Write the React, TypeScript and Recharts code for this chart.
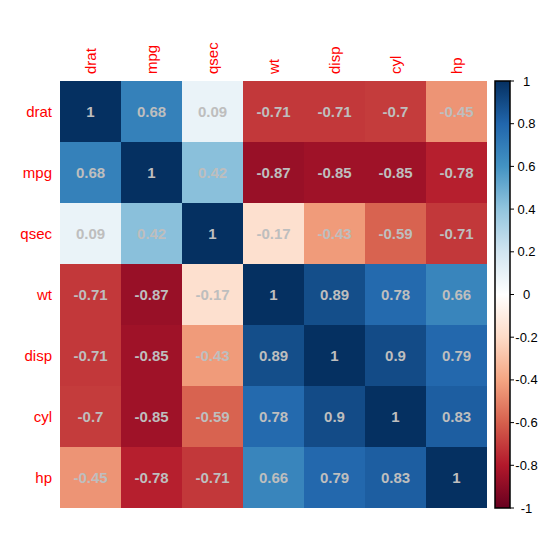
import React from 'react';
import { BarChart, Bar, XAxis, YAxis } from 'recharts';

const variables = ['drat', 'mpg', 'qsec', 'wt', 'disp', 'cyl', 'hp'];

// correlation rows, same order as variables
const dratRow = [1, 0.68, 0.09, -0.71, -0.71, -0.7, -0.45];
const mpgRow = [0.68, 1, 0.42, -0.87, -0.85, -0.85, -0.78];
const qsecRow = [0.09, 0.42, 1, -0.17, -0.43, -0.59, -0.71];
const wtRow = [-0.71, -0.87, -0.17, 1, 0.89, 0.78, 0.66];
const dispRow = [-0.71, -0.85, -0.43, 0.89, 1, 0.9, 0.79];
const cylRow = [-0.7, -0.85, -0.59, 0.78, 0.9, 1, 0.83];
const hpRow = [-0.45, -0.78, -0.71, 0.66, 0.79, 0.83, 1];
const matrix = [dratRow, mpgRow, qsecRow, wtRow, dispRow, cylRow, hpRow];

const legendTicks = [-1, -0.8, -0.6, -0.4, -0.2, 0, 0.2, 0.4, 0.6, 0.8, 1];
const rowTicks = [0.5, 1.5, 2.5, 3.5, 4.5, 5.5, 6.5];

// RdBu palette, from -1 to 1
const palette = [
  '#67001F', '#B2182B', '#D6604D', '#F4A582', '#FDDBC7', '#FFFFFF',
  '#D1E5F0', '#92C5DE', '#4393C3', '#2166AC', '#053061',
];

const FONT = '"Liberation Sans", Arial, sans-serif';

function hexToRgb(h: string) {
  const n = parseInt(h.slice(1), 16);
  return [(n >> 16) & 255, (n >> 8) & 255, n & 255];
}

function colorFor(v: number) {
  const t = ((v + 1) / 2) * (palette.length - 1);
  const i = Math.min(Math.floor(t), palette.length - 2);
  const f = t - i;
  const a = hexToRgb(palette[i]);
  const b = hexToRgb(palette[i + 1]);
  const c = a.map((x, k) => Math.round(x + (b[k] - x) * f));
  return `rgb(${c[0]},${c[1]},${c[2]})`;
}

// one entry per column, each row stacked as a unit block
const columns = variables.map((name) => {
  const d: Record<string, any> = { name };
  variables.forEach((_, i) => {
    d[`r${i}`] = 1;
  });
  return d;
});

const cellShape = (row: number) => (props: any) => {
  const { x, y, width, height, index } = props;
  const v = matrix[row][index];
  const rx = Math.min(x, x + width);
  const ry = Math.min(y, y + height);
  const w = Math.abs(width);
  const h = Math.abs(height);
  return (
    <g>
      <rect x={rx} y={ry} width={w} height={h} fill={colorFor(v)} />
      <text
        x={rx + w / 2}
        y={ry + h / 2}
        textAnchor="middle"
        dominantBaseline="central"
        fontFamily={FONT}
        fontSize={15}
        fontWeight="bold"
        fill="#BEBEBE"
      >
        {String(v)}
      </text>
    </g>
  );
};

const ColumnTick = (props: any) => {
  const { x, y, payload } = props;
  return (
    <text
      x={x}
      y={y}
      transform={`rotate(-90 ${x} ${y})`}
      textAnchor="start"
      dominantBaseline="central"
      fontFamily={FONT}
      fontSize={15}
      fill="#FF0000"
    >
      {payload.value}
    </text>
  );
};

const LegendTick = (props: any) => {
  const { x, y, payload } = props;
  return (
    <text
      x={x + 10.5}
      y={y}
      textAnchor="middle"
      dominantBaseline="central"
      fontFamily={FONT}
      fontSize={13}
      fill="#000000"
    >
      {String(payload.value)}
    </text>
  );
};

const legendData = [{ name: 'scale', range: [-1, 1] }];

const LegendBar = (props: any) => {
  const { x, y, width, height } = props;
  const ry = Math.min(y, y + height);
  return (
    <rect
      x={x}
      y={ry}
      width={width}
      height={Math.abs(height)}
      fill="url(#rdbu)"
      stroke="#000"
      strokeWidth={1.5}
    />
  );
};

export default function App() {
  return (
    <div style={{ position: 'absolute', left: 0, top: 0, width: 552, height: 551, background: '#fff', fontFamily: FONT }}>
      <BarChart
        width={552}
        height={551}
        data={columns}
        margin={{ top: 21, right: 65, bottom: 43, left: 0 }}
        barCategoryGap={0}
        barGap={0}
      >
        <XAxis
          dataKey="name"
          orientation="top"
          height={60}
          axisLine={false}
          tickLine={false}
          tickSize={0}
          tickMargin={7}
          interval={0}
          tick={<ColumnTick />}
        />
        <YAxis
          type="number"
          domain={[0, 7]}
          reversed
          ticks={rowTicks}
          tickFormatter={(v: number) => variables[Math.floor(v)]}
          width={60}
          axisLine={false}
          tickLine={false}
          tickSize={0}
          tickMargin={8}
          interval={0}
          tick={{ fill: '#FF0000', fontSize: 15, fontFamily: FONT }}
        />
        {variables.map((v, i) => (
          <Bar key={v} dataKey={`r${i}`} stackId="m" isAnimationActive={false} shape={cellShape(i)} />
        ))}
      </BarChart>
      <div style={{ position: 'absolute', left: 490, top: 0 }}>
        <BarChart
          width={60}
          height={551}
          data={legendData}
          margin={{ top: 81, right: 0, bottom: 43, left: 5 }}
          barCategoryGap={0}
        >
          <defs>
            <linearGradient id="rdbu" x1="0" y1="1" x2="0" y2="0">
              {palette.map((c, i) => (
                <stop key={i} offset={i / (palette.length - 1)} stopColor={c} />
              ))}
            </linearGradient>
          </defs>
          <XAxis dataKey="name" hide />
          <YAxis
            orientation="right"
            type="number"
            domain={[-1, 1]}
            ticks={legendTicks}
            interval={0}
            width={40}
            axisLine={false}
            tickSize={4}
            tickMargin={2}
            tickLine={{ stroke: '#000' }}
            tick={<LegendTick />}
          />
          <Bar dataKey="range" isAnimationActive={false} shape={<LegendBar />} />
        </BarChart>
      </div>
    </div>
  );
}
